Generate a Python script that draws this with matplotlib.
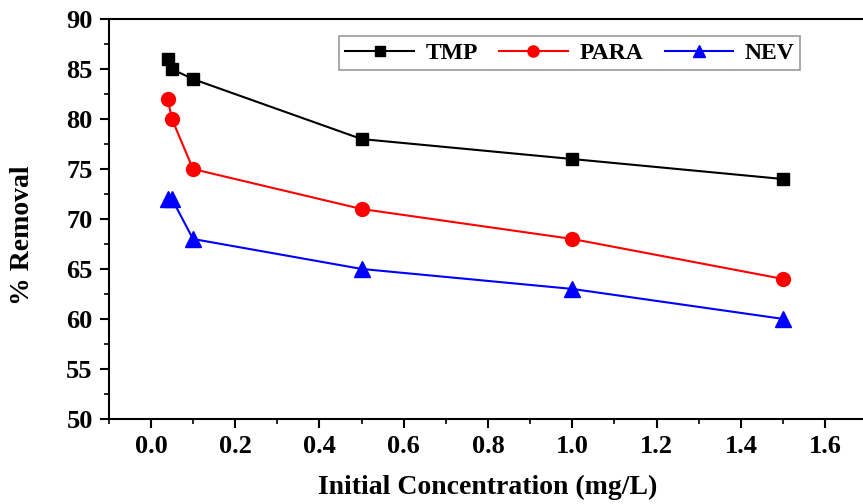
import numpy as np
import matplotlib.pyplot as plt
from matplotlib.ticker import MultipleLocator

# Data
conc = [0.04, 0.05, 0.1, 0.5, 1.0, 1.5]
tmp = [86, 85, 84, 78, 76, 74]
para = [82, 80, 75, 71, 68, 64]
nev = [72, 72, 68, 65, 63, 60]

plt.rcParams['font.family'] = ['Liberation Serif', 'DejaVu Serif']
plt.rcParams['font.weight'] = 'bold'

fig = plt.figure(figsize=(8.63, 5.04), dpi=100)
ax = fig.add_axes([0.126, 0.169, 0.879, 0.793])

ax.plot(conc, tmp, '-s', color='black', lw=1.5, ms=9, label='TMP')
ax.plot(conc, para, '-o', color='red', lw=1.5, ms=10, label='PARA')
ax.plot(conc, nev, '-^', color='blue', lw=1.5, ms=11, label='NEV')

ax.set_xlim(-0.1, 1.7)
ax.set_ylim(50, 90)
ax.xaxis.set_major_locator(MultipleLocator(0.2))
ax.xaxis.set_minor_locator(MultipleLocator(0.1))
ax.yaxis.set_major_locator(MultipleLocator(5))
ax.yaxis.set_minor_locator(MultipleLocator(2.5))
ax.tick_params(which='major', direction='out', length=6.5, width=1.5, labelsize=19, pad=5)
ax.tick_params(which='minor', direction='out', length=3.5, width=1.2)
for lbl in ax.get_xticklabels() + ax.get_yticklabels():
    lbl.set_fontweight('bold')
for s in ax.spines.values():
    s.set_linewidth(1.5)

ax.set_xlabel('Initial Concentration (mg/L)', fontsize=20, fontweight='bold', labelpad=12)
ax.set_ylabel('% Removal', fontsize=20, fontweight='bold')
ax.yaxis.set_label_coords(-0.097, 0.46)

leg = ax.legend(loc='center', bbox_to_anchor=(0.608, 0.915), ncol=3,
                fontsize=17, frameon=True, fancybox=False, handlelength=2.9,
                columnspacing=0.9, handletextpad=0.5, borderpad=0.25,
                markerscale=0.8)
leg.get_frame().set_edgecolor('gray')
leg.get_frame().set_linewidth(1.2)
for t in leg.get_texts():
    t.set_fontweight('bold')

fig.patch.set_facecolor('white')
fig.savefig('out.png', dpi=100)
